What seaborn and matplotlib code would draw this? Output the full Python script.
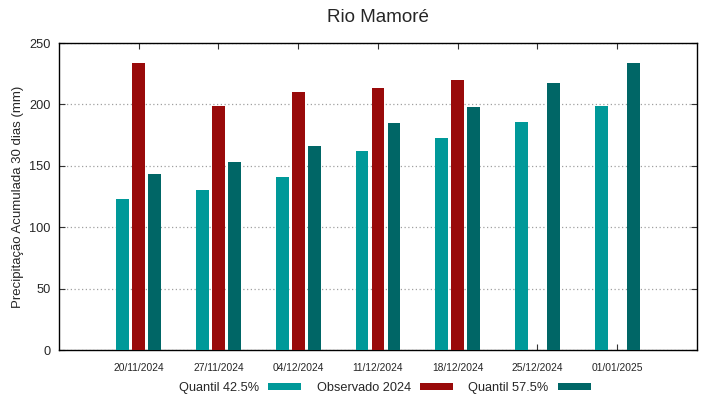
import numpy as np
import pandas as pd
import matplotlib
matplotlib.use("Agg")
import matplotlib.pyplot as plt
import seaborn as sns

# data
datas = ["20/11/2024", "27/11/2024", "04/12/2024", "11/12/2024",
         "18/12/2024", "25/12/2024", "01/01/2025"]
quantil_425 = [123, 130, 141, 162, 173, 186, 199]
observado_2024 = [233.5, 199, 210, 213, 220, np.nan, np.nan]
quantil_575 = [143, 153, 166, 185, 198, 217.5, 233.5]

series = ["Quantil 42.5%", "Observado 2024", "Quantil 57.5%"]
colors = ["#009999", "#990a0a", "#006666"]

df = pd.DataFrame({
    "data": datas * 3,
    "valor": quantil_425 + observado_2024 + quantil_575,
    "serie": [s for s in series for _ in datas],
})

sns.set_style("white")
plt.rcParams["font.family"] = ["Liberation Sans", "DejaVu Sans"]

fig = plt.figure(figsize=(7.19, 3.99), dpi=100)
ax = fig.add_axes([0.082, 0.1228, 0.8874, 0.7694])

sns.barplot(data=df, x="data", y="valor", hue="serie", hue_order=series,
            palette=colors, width=0.6, gap=0.2, errorbar=None,
            saturation=1, linewidth=0, ax=ax, zorder=3)

ax.set_xlim(-1, 7)
ax.set_ylim(0, 250)
ax.set_yticks(range(0, 251, 50))
ax.yaxis.grid(True, color="#a0a0a0", linestyle=(0, (1, 2)), linewidth=0.9, zorder=0)
ax.set_axisbelow(True)

for sp in ax.spines.values():
    sp.set_color("black")
    sp.set_linewidth(1.0)

ax.tick_params(axis="x", direction="in", top=True, bottom=True, length=4,
               labelsize=7.4, pad=9.5, color="#333333")
ax.tick_params(axis="y", direction="in", left=True, right=True, length=4,
               labelsize=9.2, pad=6, color="#333333")

ax.set_xlabel("")
ax.set_ylabel("Precipitação Acumulada 30 dias (mm)", fontsize=9.5, labelpad=4)
ax.set_title("Rio Mamoré", fontsize=13.5, pad=15)

sns.move_legend(ax, "center", bbox_to_anchor=(0.511, -0.125), ncol=3,
                title=None, frameon=False, markerfirst=False, fontsize=9.2,
                handlelength=2.6, handleheight=0.45, handletextpad=0.7,
                columnspacing=1.2)

fig.savefig("out.png", dpi=100)
